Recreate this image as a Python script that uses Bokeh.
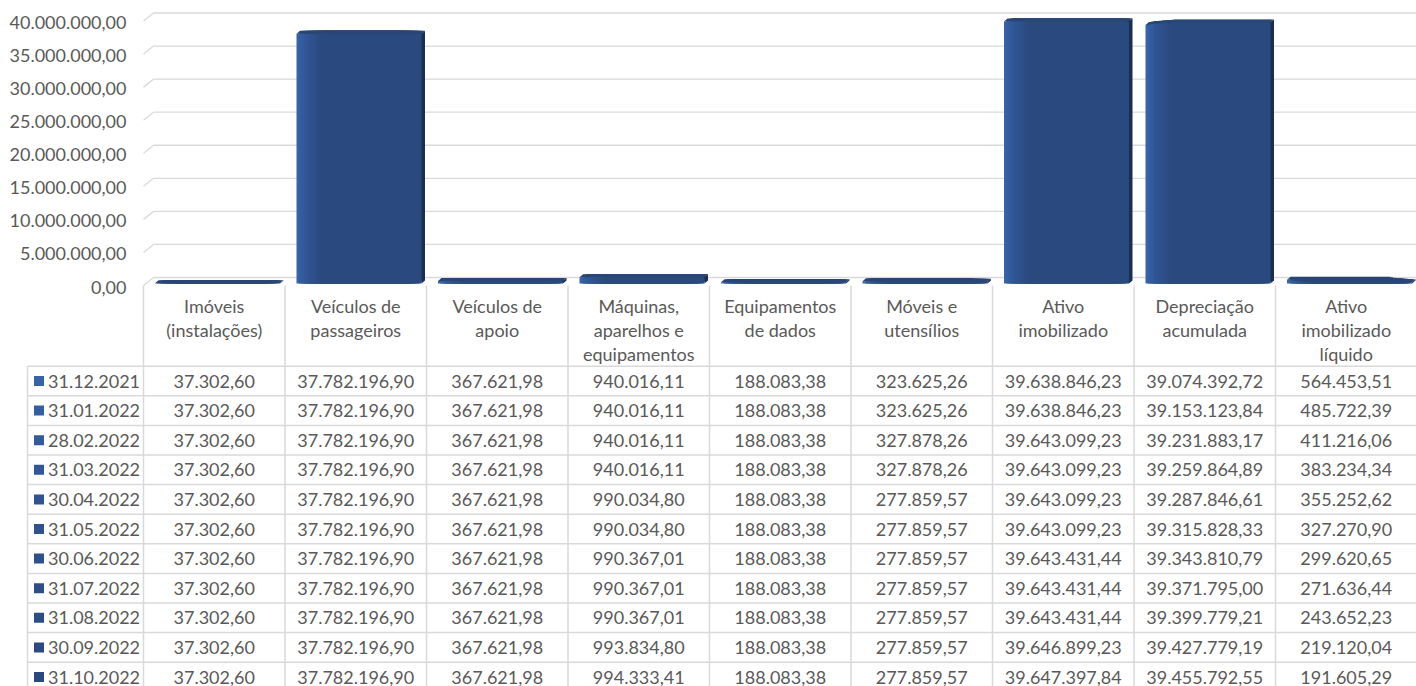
import numpy as np
from bokeh.plotting import figure
from bokeh.models import Range1d, ColumnDataSource
from bokeh.core.properties import value
from bokeh.embed import file_html
from bokeh.resources import INLINE

# ---------------- data ----------------
categories = ["Imóveis\n(instalações)", "Veículos de\npassageiros", "Veículos de\napoio",
              "Máquinas,\naparelhos e\nequipamentos", "Equipamentos\nde dados",
              "Móveis e\nutensílios", "Ativo\nimobilizado", "Depreciação\nacumulada",
              "Ativo\nimobilizado\nlíquido"]

dates = ["31.12.2021", "31.01.2022", "28.02.2022", "31.03.2022", "30.04.2022", "31.05.2022",
         "30.06.2022", "31.07.2022", "31.08.2022", "30.09.2022", "31.10.2022"]

imoveis = [37302.60] * 11
veiculos_passageiros = [37782196.90] * 11
veiculos_apoio = [367621.98] * 11
maquinas = [940016.11, 940016.11, 940016.11, 940016.11, 990034.80, 990034.80,
            990367.01, 990367.01, 990367.01, 993834.80, 994333.41]
equipamentos_dados = [188083.38] * 11
moveis = [323625.26, 323625.26, 327878.26, 327878.26, 277859.57, 277859.57,
          277859.57, 277859.57, 277859.57, 277859.57, 277859.57]
ativo = [39638846.23, 39638846.23, 39643099.23, 39643099.23, 39643099.23, 39643099.23,
         39643431.44, 39643431.44, 39643431.44, 39646899.23, 39647397.84]
depreciacao = [39074392.72, 39153123.84, 39231883.17, 39259864.89, 39287846.61, 39315828.33,
               39343810.79, 39371795.00, 39399779.21, 39427779.19, 39455792.55]
liquido = [564453.51, 485722.39, 411216.06, 383234.34, 355252.62, 327270.90,
           299620.65, 271636.44, 243652.23, 219120.04, 191605.29]

y_ticks = [0, 5e6, 10e6, 15e6, 20e6, 25e6, 30e6, 35e6, 40e6]

series_colors = ["#3863A8", "#355EA2", "#335A9D", "#315798", "#305493", "#2F528F",
                 "#2E508B", "#2D4E88", "#2C4C85", "#2B4A82", "#2A497F"]

columns = [imoveis, veiculos_passageiros, veiculos_apoio, maquinas, equipamentos_dados,
           moveis, ativo, depreciacao, liquido]


def br(v):
    s = f"{v:,.2f}"
    return s.replace(",", "X").replace(".", ",").replace("X", ".")


# ---------------- layout ----------------
W, H = 1416, 686
CAT_PX = 141.5
X0_PX = 143.0
ROW_PX = 29.6
ROW0_PX = 380.5
VPX = 40e6 / 264.5  # value per pixel

FONT = value("Lato")
FS = "18px"
TXT = "#595959"
LINE = "#D9D9D9"

x_range = Range1d(-X0_PX / CAT_PX, (W - X0_PX) / CAT_PX)
y_range = Range1d((H - ROW0_PX) / ROW_PX, -ROW0_PX / ROW_PX)


def vrange(zero_px):
    return Range1d(-(H - zero_px) * VPX, zero_px * VPX)


p = figure(width=W, height=H, x_range=x_range, y_range=y_range,
           output_backend="svg", toolbar_location=None, min_border=0,
           x_axis_location=None, y_axis_location=None)
p.extra_y_ranges = {"val": vrange(285.0), "bar": vrange(283.0), "wall": vrange(277.0)}
p.grid.visible = False
p.outline_line_color = None
p.background_fill_color = "white"
p.border_fill_color = "white"

# ---------------- gridlines (back wall) ----------------
wall_dx = 10.0 / CAT_PX
wall_shift = 8.0 * VPX
p.segment(x0=[wall_dx] * len(y_ticks), y0=y_ticks, x1=[x_range.end] * len(y_ticks), y1=y_ticks,
          y_range_name="wall", line_color=LINE, line_width=1.3)
p.segment(x0=[0.0] * len(y_ticks), y0=y_ticks, x1=[wall_dx] * len(y_ticks),
          y1=[t + wall_shift for t in y_ticks],
          y_range_name="val", line_color=LINE, line_width=1.3)

# y tick labels
p.text(x=[-17.0 / CAT_PX] * len(y_ticks), y=y_ticks, text=[br(t) for t in y_ticks],
       y_range_name="val", text_align="right", text_baseline="middle", y_offset=1.5,
       text_font=FONT, text_font_size=FS, text_color=TXT)

# ---------------- 3D-ish bars ----------------
BAR_A = 11.5 / CAT_PX
DD = 2.5 / CAT_PX
BW = 100.0 / CAT_PX
SD = 3.5 / CAT_PX
HD = 3.0 * VPX

for i in range(len(dates)):
    vals = [col[i] for col in columns]
    lefts = [j + BAR_A + i * DD for j in range(len(categories))]
    rights = [l + BW for l in lefts]
    # side face
    p.patches(xs=[[r, r + SD, r + SD, r] for r in rights],
              ys=[[0, HD, v + HD, v] for v in vals],
              y_range_name="bar", fill_color="#1C2E50", line_color=None)
    # front face
    p.quad(left=lefts, right=rights, bottom=[0] * len(vals), top=vals,
           y_range_name="bar", fill_color=series_colors[i], line_color=None)
    # top face
    p.patches(xs=[[l, l + SD, r + SD, r] for l, r in zip(lefts, rights)],
              ys=[[v, v + HD, v + HD, v] for v in vals],
              y_range_name="bar", fill_color="#2A4675", line_color=None)

# ---------------- data table ----------------
n_rows = len(dates)
ncat = len(categories)
head_top = (285.0 - ROW0_PX) / ROW_PX
legend_left = (27.0 - X0_PX) / CAT_PX
bottom_y = y_range.start

# horizontal row lines
hy = [r - 0.5 for r in range(n_rows + 1)]
p.segment(x0=[legend_left] * len(hy), y0=hy, x1=[x_range.end] * len(hy), y1=hy,
          line_color=LINE, line_width=1.5)
# vertical lines
p.segment(x0=[legend_left], y0=[-0.5], x1=[legend_left], y1=[bottom_y],
          line_color=LINE, line_width=1.5)
vx = list(range(ncat + 1))
p.segment(x0=vx, y0=[head_top] * len(vx), x1=vx, y1=[bottom_y] * len(vx),
          line_color=LINE, line_width=1.5)

# header labels
line_gap = 24.0 / ROW_PX
first_line = (305.0 - ROW0_PX) / ROW_PX
hx, hyy, ht = [], [], []
for j, c in enumerate(categories):
    for k, ln in enumerate(c.split("\n")):
        hx.append(j + 0.5)
        hyy.append(first_line + k * line_gap)
        ht.append(ln)
p.text(x=hx, y=hyy, text=ht, text_align="center", text_baseline="middle",
       text_font=FONT, text_font_size=FS, text_color=TXT)

# legend keys + dates
rows = list(range(n_rows))
p.scatter(x=[(38.5 - X0_PX) / CAT_PX] * n_rows, y=rows, marker="square", size=10,
          fill_color=series_colors, line_color=None)
p.text(x=[(47.5 - X0_PX) / CAT_PX] * n_rows, y=rows, text=dates,
       text_align="left", text_baseline="middle",
       text_font=FONT, text_font_size=FS, text_color=TXT)

# cell values
cx, cy, ct = [], [], []
for j, col in enumerate(columns):
    for i, v in enumerate(col):
        cx.append(j + 0.5)
        cy.append(i)
        ct.append(br(v))
src = ColumnDataSource(dict(x=cx, y=cy, t=ct))
p.text(x="x", y="y", text="t", source=src, text_align="center", text_baseline="middle",
       text_font=FONT, text_font_size=FS, text_color=TXT)

open("out.html", "w").write(file_html(p, INLINE))
